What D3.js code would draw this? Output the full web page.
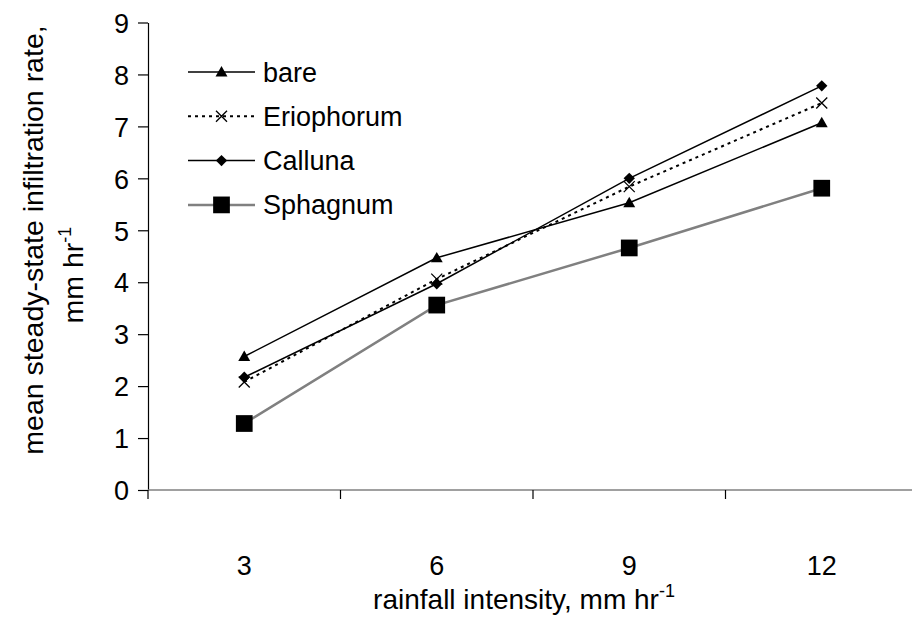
<!DOCTYPE html>
<html>
<head>
<meta charset="utf-8">
<script src="https://cdn.jsdelivr.net/npm/d3@7"></script>
<style>
  body { margin: 0; background: #fff; }
  text { font-family: "Liberation Sans", Arial, sans-serif; fill: #000; }
</style>
</head>
<body>
<div id="chart"></div>
<script>
// data
var categories = ["3", "6", "9", "12"];
var seriesNames = ["bare", "Eriophorum", "Calluna", "Sphagnum"];
var bare = [2.57, 4.47, 5.53, 7.07];
var eriophorum = [2.08, 4.06, 5.84, 7.45];
var calluna = [2.17, 3.97, 6.00, 7.78];
var sphagnum = [1.28, 3.56, 4.66, 5.81];
var yTicks = [0, 1, 2, 3, 4, 5, 6, 7, 8, 9];

var series = [
  {name: seriesNames[0], values: bare, stroke: "#000", width: 1.5, dash: null, marker: "triangle"},
  {name: seriesNames[1], values: eriophorum, stroke: "#000", width: 2, dash: "3,4", marker: "x"},
  {name: seriesNames[2], values: calluna, stroke: "#000", width: 1.5, dash: null, marker: "diamond"},
  {name: seriesNames[3], values: sphagnum, stroke: "#808080", width: 2.5, dash: null, marker: "square"}
];

var width = 912, height = 621;
var svg = d3.select("#chart").append("svg")
  .attr("width", width)
  .attr("height", height);

// scales
var x = d3.scaleBand().domain(categories).range([148, 918]).padding(0);
var y = d3.scaleLinear().domain([0, 9]).range([490, 22.5]);

// y axis
var yAxis = svg.append("g")
  .attr("transform", "translate(148,0)")
  .call(d3.axisLeft(y).tickValues(yTicks).tickSize(10).tickPadding(9).tickSizeOuter(0));
yAxis.select(".domain").attr("stroke", "#000").attr("stroke-width", 1.2);
yAxis.selectAll(".tick line").attr("stroke", "#000").attr("stroke-width", 1.2);
yAxis.selectAll(".tick text")
  .style("font-family", "'Liberation Sans', Arial, sans-serif")
  .style("font-size", "27px")
  .attr("dy", "0.36em");

// x axis (category axis, ticks between categories)
var xg = svg.append("g");
xg.append("line")
  .attr("x1", x.range()[0]).attr("x2", x.range()[1])
  .attr("y1", y(0)).attr("y2", y(0))
  .attr("stroke", "#808080").attr("stroke-width", 1.5);
xg.selectAll("line.tick")
  .data(categories)
  .enter().append("line")
  .attr("class", "tick")
  .attr("x1", function(d) { return x(d); })
  .attr("x2", function(d) { return x(d); })
  .attr("y1", y(0)).attr("y2", y(0) + 9)
  .attr("stroke", "#000").attr("stroke-width", 1.2);
xg.selectAll("text")
  .data(categories)
  .enter().append("text")
  .attr("x", function(d) { return x(d) + x.bandwidth() / 2; })
  .attr("y", 575)
  .attr("text-anchor", "middle")
  .style("font-size", "27px")
  .text(function(d) { return d; });

// lines
var line = d3.line()
  .x(function(d, i) { return x(categories[i]) + x.bandwidth() / 2; })
  .y(function(d) { return y(d); });

series.forEach(function(s) {
  svg.append("path")
    .datum(s.values)
    .attr("d", line)
    .attr("fill", "none")
    .attr("stroke", s.stroke)
    .attr("stroke-width", s.width)
    .attr("stroke-dasharray", s.dash);
});

// markers
function drawMarker(g, type, cx, cy) {
  if (type === "triangle") {
    g.append("path")
      .attr("d", d3.symbol().type(d3.symbolTriangle).size(62)())
      .attr("transform", "translate(" + cx + "," + (cy + 1) + ")")
      .attr("fill", "#000");
  } else if (type === "diamond") {
    g.append("path")
      .attr("d", d3.symbol().type(d3.symbolSquare).size(64)())
      .attr("transform", "translate(" + cx + "," + cy + ") rotate(45)")
      .attr("fill", "#000");
  } else if (type === "x") {
    var r = 5.5;
    g.append("path")
      .attr("d", "M" + (cx - r) + "," + (cy - r) + "L" + (cx + r) + "," + (cy + r) +
                 "M" + (cx - r) + "," + (cy + r) + "L" + (cx + r) + "," + (cy - r))
      .attr("stroke", "#000").attr("stroke-width", 1.3).attr("fill", "none");
  } else if (type === "square") {
    g.append("path")
      .attr("d", d3.symbol().type(d3.symbolSquare).size(280)())
      .attr("transform", "translate(" + cx + "," + cy + ")")
      .attr("fill", "#000");
  }
}

series.forEach(function(s) {
  var g = svg.append("g");
  s.values.forEach(function(v, i) {
    drawMarker(g, s.marker, x(categories[i]) + x.bandwidth() / 2, y(v));
  });
});

// legend
var legend = svg.append("g");
series.forEach(function(s, i) {
  var ly = 72 + i * 44.3;
  legend.append("line")
    .attr("x1", 188).attr("x2", 255)
    .attr("y1", ly).attr("y2", ly)
    .attr("stroke", s.stroke)
    .attr("stroke-width", s.width)
    .attr("stroke-dasharray", s.dash);
  drawMarker(legend, s.marker, 221.5, ly);
  legend.append("text")
    .attr("x", 263)
    .attr("y", ly + 9.5)
    .style("font-size", "27px")
    .text(s.name);
});

// axis titles
var xTitle = svg.append("text")
  .attr("x", 524)
  .attr("y", 609)
  .attr("text-anchor", "middle")
  .style("font-size", "28px");
xTitle.append("tspan").text("rainfall intensity, mm hr");
xTitle.append("tspan").attr("dy", -12).style("font-size", "18px").text("-1");

var yTitle = svg.append("g").attr("transform", "translate(43,240) rotate(-90)");
yTitle.append("text")
  .attr("text-anchor", "middle")
  .style("font-size", "28.5px")
  .text("mean steady-state infiltration rate,");
var yT2 = svg.append("text")
  .attr("transform", "translate(83,275) rotate(-90)")
  .attr("text-anchor", "middle")
  .style("font-size", "28.5px");
yT2.append("tspan").text("mm hr");
yT2.append("tspan").attr("dy", -12).style("font-size", "18px").text("-1");
</script>
</body>
</html>
